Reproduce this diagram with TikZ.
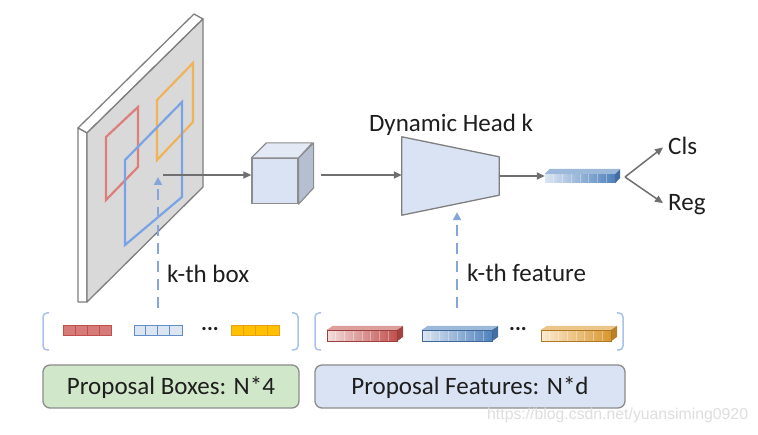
\documentclass[tikz,border=0pt]{standalone}
\usepackage{fontspec}
\setmainfont{Carlito}
\newfontfamily\wmfont{Liberation Sans}
\usetikzlibrary{arrows.meta,calc}
\definecolor{txt}{HTML}{1E1E1E}
\definecolor{edgegray}{HTML}{7F7F7F}
\definecolor{platefill}{HTML}{D9D9D9}
\definecolor{boxred}{HTML}{DD7E7B}
\definecolor{boxorange}{HTML}{F0B357}
\definecolor{boxblue}{HTML}{7AA3E5}
\definecolor{cubefront}{HTML}{DAE3F3}
\definecolor{cubetop}{HTML}{E3EAF6}
\definecolor{cubeside}{HTML}{B5BFD1}
\definecolor{arrgray}{HTML}{6F6F6F}
\definecolor{dashblue}{HTML}{85A5DC}
\definecolor{brblue}{HTML}{A9C2E8}
\definecolor{greenfill}{HTML}{D1E7C9}
\definecolor{bluefill}{HTML}{DAE3F3}
\definecolor{redlight}{HTML}{F4DEDD}
\definecolor{reddark}{HTML}{C0504D}
\definecolor{bluelight}{HTML}{DCE6F2}
\definecolor{bluedark}{HTML}{4F81BD}
\definecolor{orlight}{HTML}{FCEBD0}
\definecolor{ordark}{HTML}{D9962F}
\definecolor{cellorange}{HTML}{FFC000}
\definecolor{cellorangedark}{HTML}{E89F10}
\definecolor{cellred}{HTML}{D67B78}
\tikzset{
  garrow/.style={draw=arrgray, line width=1.5pt, -{Triangle[length=8pt,width=7pt]}},
  darrow/.style={draw=dashblue, line width=2.6pt, dash pattern=on 11pt off 7pt, -{Triangle[length=8pt,width=8pt]}},
  lbl/.style={font=\fontsize{25}{30}\selectfont, text=txt, inner sep=0pt},
  plateedge/.style={draw=edgegray, line width=1.3pt, line join=round},
  onplate/.style={line width=2.2pt, line join=miter},
  cubeedge/.style={draw=edgegray!90, line width=1.2pt, line join=round},
  bracket/.style={draw=brblue, line width=1.5pt, rounded corners=4pt},
  cellbox/.style={rectangle, minimum width=48pt, minimum height=10pt, inner sep=0pt, line width=1pt},
  fbar/.style={rectangle, minimum width=70pt, minimum height=11pt, inner sep=0pt},
  bigbox/.style={rectangle, rounded corners=7pt, draw=edgegray!90, line width=1.3pt, minimum height=43pt, inner sep=0pt, font=\fontsize{25}{30}\selectfont, text=txt, text height=16pt, text depth=0pt}
}
\newcommand\mycells[5]{% x center, y center, fill, draw, name
  \node[cellbox, fill=#3, draw=#4] (#5) at (#1,#2) {};
  \foreach \k in {1,2,3}{\draw[#4, line width=0.9pt] ($(#5.north west)+(\k*12,0)$) -- ($(#5.south west)+(\k*12,0)$);}
}
\newcommand\myfbar[5]{% x center, y center, light, dark, name
  \node[fbar, left color=#3, right color=#4] (#5) at (#1,#2) {};
  \fill[#3!55!#4] (#5.north west) -- ++(6,-4) -- ++(70,0) -- (#5.north east) -- cycle;
  \fill[#4!85!black] (#5.north east) -- ++(6,-4) -- ++(0,11) -- (#5.south east) -- cycle;
  \foreach \k in {1,...,7}{\draw[white, opacity=0.35, line width=0.6pt] ($(#5.north west)+(\k*8.75,0)$) -- ($(#5.south west)+(\k*8.75,0)$);}
  \draw[#4!80!black, line width=0.5pt] (#5.south west) rectangle (#5.north east);
}
\begin{document}
\begin{tikzpicture}[x=1pt,y=-1pt]
\useasboundingbox (0,0) rectangle (758,435);
\fill[white] (0,0) rectangle (758,435);

% ---------- feature map plate ----------
\coordinate (pA) at (87,133);
\coordinate (pB) at (203,19);
\coordinate (pC) at (203,187);
\coordinate (pD) at (87,302);
\filldraw[plateedge, fill=white] (pA) -- ++(-9,-5) -- ($(pB)+(-9,-5)$) -- (pB) -- cycle;
\filldraw[plateedge, fill=white] (pA) -- ++(-9,-5) -- ($(pD)+(-9,0)$) -- (pD) -- cycle;
\filldraw[plateedge, fill=platefill] (pA) -- (pB) -- (pC) -- (pD) -- cycle;
% proposal boxes on the plate
\draw[onplate, draw=boxred] (106,137) -- (138,107) -- (138,167) -- (106,200) -- cycle;
\draw[onplate, draw=boxorange] (157,100) -- (193,63) -- (193,122) -- (157,160) -- cycle;
\draw[onplate, draw=boxblue] (125,160) -- (182,102) -- (182,197) -- (125,245) -- cycle;

% ---------- cube ----------
\node[rectangle, minimum width=46pt, minimum height=45pt, inner sep=0pt, fill=cubefront, draw=edgegray!90, line width=1.2pt] (cube) at (275,181) {};
\filldraw[cubeedge, fill=cubetop] (cube.north west) -- ++(15,-15) -- ++(46,0) -- (cube.north east) -- cycle;
\filldraw[cubeedge, fill=cubeside] (cube.north east) -- ++(15,-15) -- ++(0,45) -- (cube.south east) -- cycle;

\coordinate (roi) at (163,175);
\draw[garrow] (roi) -- (cube.west |- roi);

% ---------- dynamic head ----------
\node[minimum width=97pt, minimum height=78pt, inner sep=0pt] (head) at (450.5,176) {};
\filldraw[draw=edgegray, fill=cubefront, line width=1.3pt, line join=round]
  (head.north west) -- ($(head.north east)+(0,20)$) -- ($(head.south east)+(0,-20)$) -- (head.south west) -- cycle;
\node[lbl, anchor=base] (headlbl) at (451,132) {Dynamic Head k};
\draw[garrow] ([xshift=22pt]cube.east |- roi) -- (head.west |- roi);

% ---------- output vector ----------
\node[fbar, minimum height=9pt, left color=bluelight, right color=bluedark] (vec) at (580,178.5) {};
\fill[bluelight!55!bluedark] (vec.north west) -- ++(5,-5) -- ++(70,0) -- (vec.north east) -- cycle;
\fill[bluedark!85!black] (vec.north east) -- ++(5,-5) -- ++(0,9) -- (vec.south east) -- cycle;
\foreach \k in {1,...,7}{\draw[white, opacity=0.35, line width=0.6pt] ($(vec.north west)+(\k*8.75,0)$) -- ($(vec.south west)+(\k*8.75,0)$);}
\draw[garrow] (head.east |- 0,176) -- (vec.west |- 0,176);

\coordinate (fork) at (625,177);
\node[lbl, anchor=base west] (cls) at (668,155) {Cls};
\node[lbl, anchor=base west] (reg) at (668,211) {Reg};
\draw[garrow] (fork) -- ([xshift=-5pt,yshift=-1pt]cls.west);
\draw[garrow] (fork) -- ([xshift=-5pt,yshift=2pt]reg.west);

% ---------- proposal boxes (left group) ----------
\draw[bracket] (49,313) -- (43,313) -- (43,350) -- (49,350);
\draw[bracket] (292,313) -- (298,313) -- (298,350) -- (292,350);
\mycells{87.5}{331}{cellred}{reddark}{cr}
\mycells{158}{331}{bluelight}{bluedark!90}{cb}
\node[lbl, font=\fontsize{22}{26}\selectfont\bfseries] (dl) at (210,329) {...};
\mycells{255.5}{331}{cellorange}{cellorangedark}{co}
\node[bigbox, fill=greenfill, minimum width=256pt] (pboxes) at (171,386.5) {Proposal Boxes: N*4};

\coordinate (kbs) at (158,308);
\coordinate (kbe) at (158,177);
\draw[darrow] (kbs) -- (kbe);
\node[lbl, anchor=base west] (kbox) at (167,283) {k-th box};

% ---------- proposal features (right group) ----------
\draw[bracket] (321,313) -- (315,313) -- (315,350) -- (321,350);
\draw[bracket] (617,313) -- (623,313) -- (623,350) -- (617,350);
\myfbar{362}{335.5}{redlight}{reddark}{fr}
\myfbar{457}{335.5}{bluelight}{bluedark}{fb}
\node[lbl, font=\fontsize{22}{26}\selectfont\bfseries] (dr) at (518,329) {...};
\myfbar{576}{335.5}{orlight}{ordark}{fo}
\node[bigbox, fill=bluefill, minimum width=310pt] (pfeats) at (470,386.5) {Proposal Features: N*d};

\coordinate (kfs) at (457,308);
\draw[darrow] (kfs) -- ([yshift=3pt]head.south -| kfs);
\node[lbl, anchor=base west] (kfeat) at (467,282) {k-th feature};

% ---------- watermark ----------
\node[anchor=west, inner sep=0pt, font=\wmfont\fontsize{15.8}{18}\selectfont, text=black!13] (wm) at (487,415) {https://blog.csdn.net/yuansiming0920};
\end{tikzpicture}
\end{document}
